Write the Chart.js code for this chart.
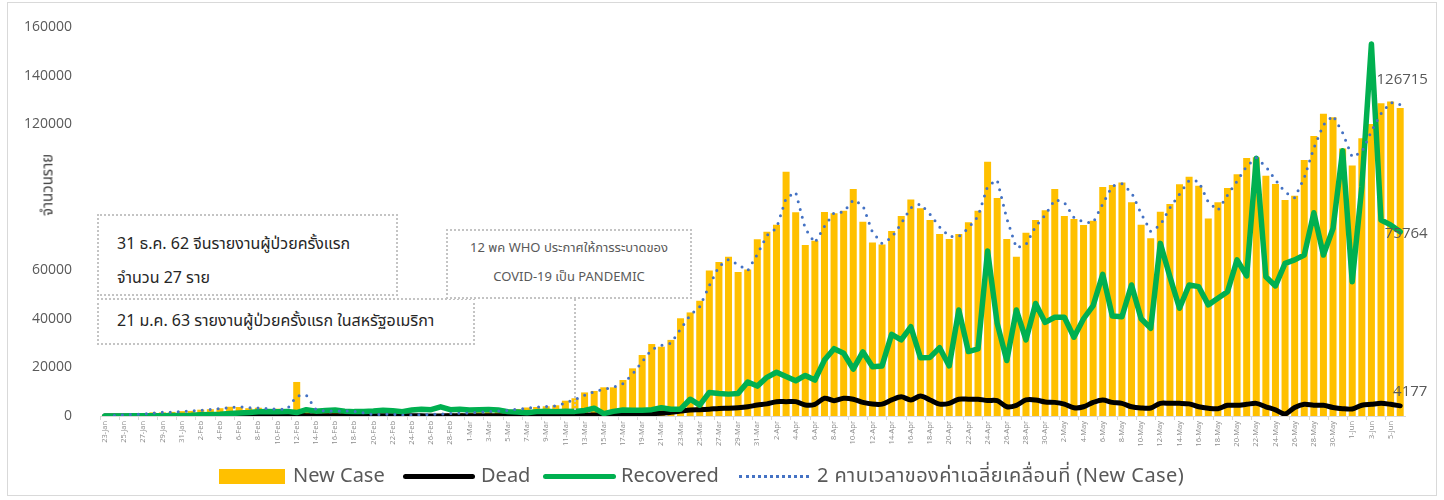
<!DOCTYPE html>
<html>
<head>
<meta charset="utf-8">
<script src="https://cdn.jsdelivr.net/npm/chart.js@4.4.1/dist/chart.umd.min.js"></script>
<style>
  html, body { margin: 0; padding: 0; background: #fff; }
  #wrap { position: relative; width: 1444px; height: 500px; overflow: hidden; background: #fff;
          font-family: "Noto Sans Thai", "Tahoma", "Open Sans", "Noto Sans", sans-serif; }
  #frame { position: absolute; left: 7px; top: 2px; width: 1430px; height: 494px; border: 1px solid #d9d9d9; box-sizing: border-box; }
  canvas { position: absolute; left: 0; top: 0; }
  .box { position: absolute; box-sizing: border-box; border: 2px dotted #c4c4c4; white-space: nowrap; }
  #ytitle { position: absolute; left: 48px; top: 185px; transform: translate(-50%, -50%) rotate(-90deg);
            font-size: 15px; color: #404040; white-space: nowrap; }
  .lg { position: absolute; top: 476px; transform: translateY(-50%); font-size: 20px; color: #595959; white-space: nowrap; }
  .sym { position: absolute; }
</style>
</head>
<body>
<div id="wrap">
  <div id="frame"></div>
  <canvas id="c" width="1444" height="500"></canvas>
  <div id="ytitle">จำนวนราย</div>

  <div class="box" style="left:97px;top:214px;width:301px;height:82px;padding:11px 0 0 18px;font-size:16px;line-height:34px;color:#262626;background:#fff;">
    31 ธ.ค. 62 จีนรายงานผู้ป่วยครั้งแรก<br>จำนวน 27 ราย
  </div>
  <div class="box" style="left:97px;top:298px;width:378px;height:47px;padding:0 0 0 18px;font-size:16px;line-height:43px;color:#262626;background:#fff;">
    21 ม.ค. 63 รายงานผู้ป่วยครั้งแรก ในสหรัฐอเมริกา
  </div>
  <div class="box" style="left:446px;top:229px;width:246px;height:70px;padding-top:3px;font-size:13px;line-height:29px;color:#595959;text-align:center;background:#fff;">
    12 พค WHO ประกาศให้การระบาดของ<br>COVID-19 เป็น PANDEMIC
  </div>
  <div style="position:absolute;left:574px;top:299px;height:111px;width:0;border-left:2px dotted #c4c4c4;"></div>

  <div class="sym" style="left:219px;top:469px;width:66px;height:15px;background:#FFC000;"></div>
  <div class="lg" style="left:293px;">New Case</div>
  <div class="sym" style="left:403px;top:474px;width:72px;height:5px;border-radius:3px;background:#000;"></div>
  <div class="lg" style="left:481px;">Dead</div>
  <div class="sym" style="left:543px;top:474px;width:73px;height:5px;border-radius:3px;background:#00B050;"></div>
  <div class="lg" style="left:621px;">Recovered</div>
  <div class="sym" style="left:739px;top:475px;width:70px;height:0;border-top:3px dotted #4472C4;"></div>
  <div class="lg" style="left:817px;letter-spacing:0.4px;">2 คาบเวลาของค่าเฉลี่ยเคลื่อนที่ (New Case)</div>
</div>
<script>
const categories = [
 '23-Jan','24-Jan','25-Jan','26-Jan','27-Jan','28-Jan','29-Jan','30-Jan','31-Jan',
 '1-Feb','2-Feb','3-Feb','4-Feb','5-Feb','6-Feb','7-Feb','8-Feb','9-Feb','10-Feb','11-Feb','12-Feb','13-Feb','14-Feb','15-Feb','16-Feb','17-Feb','18-Feb','19-Feb','20-Feb','21-Feb','22-Feb','23-Feb','24-Feb','25-Feb','26-Feb','27-Feb','28-Feb','29-Feb',
 '1-Mar','2-Mar','3-Mar','4-Mar','5-Mar','6-Mar','7-Mar','8-Mar','9-Mar','10-Mar','11-Mar','12-Mar','13-Mar','14-Mar','15-Mar','16-Mar','17-Mar','18-Mar','19-Mar','20-Mar','21-Mar','22-Mar','23-Mar','24-Mar','25-Mar','26-Mar','27-Mar','28-Mar','29-Mar','30-Mar','31-Mar',
 '1-Apr','2-Apr','3-Apr','4-Apr','5-Apr','6-Apr','7-Apr','8-Apr','9-Apr','10-Apr','11-Apr','12-Apr','13-Apr','14-Apr','15-Apr','16-Apr','17-Apr','18-Apr','19-Apr','20-Apr','21-Apr','22-Apr','23-Apr','24-Apr','25-Apr','26-Apr','27-Apr','28-Apr','29-Apr','30-Apr',
 '1-May','2-May','3-May','4-May','5-May','6-May','7-May','8-May','9-May','10-May','11-May','12-May','13-May','14-May','15-May','16-May','17-May','18-May','19-May','20-May','21-May','22-May','23-May','24-May','25-May','26-May','27-May','28-May','29-May','30-May','31-May',
 '1-Jun','2-Jun','3-Jun','4-Jun','5-Jun','6-Jun'
];

const newCase = [
 100,300,700,700,800,1500,1500,1700,2000,
 2100,2600,2800,3200,3800,3700,3200,3400,2700,3000,2500,14000,3200,2100,2000,2100,2000,1900,600,500,900,400,500,400,600,700,900,1100,1200,
 1400,1600,1900,2100,2600,2900,3500,3700,4000,4400,6300,7300,9700,10300,11800,11800,14800,19600,25100,29600,28500,31300,40200,42600,47400,59800,63300,65500,59200,60300,72700,
 75800,78700,100500,83800,70300,72100,83900,83400,84400,93400,79900,71400,70500,76100,82300,89100,85400,80600,74900,72800,74900,79700,84400,104600,89700,72800,65500,75400,80600,84600,
 93400,82300,81000,78600,80300,94200,95000,96000,87900,78700,73100,84000,87200,95300,98400,94700,81200,87900,93800,99400,106100,106400,98800,95400,88800,90600,105300,115200,124300,122900,110000,
 103000,114200,120100,128600,129400,126715
];

const dead = [
 10,10,15,15,25,25,25,38,43,
 46,45,57,64,65,73,86,89,97,108,97,254,121,143,142,105,98,136,115,118,109,97,150,71,52,29,44,60,70,
 55,90,70,80,100,100,110,100,230,210,270,330,350,440,430,600,700,800,900,1000,1100,1500,2000,2500,2600,2800,3100,3200,3400,3800,4500,
 5000,5900,5900,5900,4500,4800,7300,6300,7300,6900,5600,4900,4900,6600,7900,6600,8200,6600,4900,5200,6900,6900,6900,6400,6300,3800,4400,6600,6600,5800,
 5600,4900,3400,3800,5600,6600,5600,5200,3800,3300,3300,5200,5200,5200,5000,3800,3200,3000,4400,4400,4800,5200,3800,2500,800,3500,4800,4400,4400,3500,3000,
 2900,4400,4800,5200,4800,4177
];

const recovered = [
 30,30,50,60,100,100,150,170,250,
 300,470,630,750,1000,1200,1400,1700,1800,1700,1900,1400,2600,2000,2300,2500,2000,1800,1900,2100,2400,2200,1800,2500,2800,2600,3800,2600,2800,
 2500,2600,2700,2500,1800,1600,1300,1800,2000,1800,2000,1900,2300,3200,1000,1900,2500,2400,2400,2600,3400,2800,2800,6900,4500,9700,9300,9000,9300,14000,12300,
 15900,18000,16200,14500,16700,14800,23000,27700,25800,19300,26400,20300,20600,33600,31300,36700,24000,24100,28100,20600,43600,26500,27600,67900,38100,22800,43600,31300,46300,38500,
 40600,40600,32400,40000,45400,58300,41100,40800,53900,40000,36100,71000,57300,44300,53900,53200,45700,48400,51100,64200,57600,106000,57300,53500,62800,64200,66200,83600,66200,77200,109100,
 55200,94300,153000,80600,78600,75764
];

const movingAvg2 = [
 null,200,500,700,750,1150,1500,1600,1850,
 2050,2350,2700,3000,3500,3750,3450,3300,3050,2850,2750,8250,8600,2650,2050,2050,2050,1950,1250,550,700,650,450,450,500,650,800,1000,1150,
 1300,1500,1750,2000,2350,2750,3200,3600,3850,4200,5350,6800,8500,10000,11050,11800,13300,17200,22350,27350,29050,29900,35750,41400,45000,53600,61550,64400,62350,59750,66500,
 74250,77250,89600,92150,77050,71200,78000,83650,83900,88900,86650,75650,70950,73300,79200,85700,87250,83000,77750,73850,73850,77300,82050,94500,97150,81250,69150,70450,78000,82600,
 89000,87850,81650,79800,79450,87250,94600,95500,91950,83300,75900,78550,85600,91250,96850,96550,87950,84550,90850,96600,102750,106250,102600,97100,92100,89700,97950,110250,119750,123600,116450,
 106500,108600,117150,124350,129000,128057
];

const yTicksShown = [0, 20000, 40000, 60000, 120000, 140000, 160000];

const endLabels = {
  id: 'endLabels',
  afterDatasetsDraw(chart) {
    const ctx = chart.ctx;
    ctx.save();
    ctx.font = '15px "Open Sans", sans-serif';
    ctx.fillStyle = '#595959';
    ctx.textAlign = 'center';
    ctx.textBaseline = 'middle';
    const put = (di, arr, dx, dy) => {
      const pts = chart.getDatasetMeta(di).data;
      const p = pts[pts.length - 1];
      if (p) ctx.fillText(String(arr[arr.length - 1]), p.x + dx, p.y + dy);
    };
    put(0, newCase, 2, -28);
    put(1, dead, 10, -14);
    put(2, recovered, 6, 2);
    ctx.restore();
  }
};

new Chart(document.getElementById('c'), {
  data: {
    labels: categories,
    datasets: [
      { type: 'bar', label: 'New Case', data: newCase, backgroundColor: '#FFC000', borderWidth: 0,
        categoryPercentage: 1.0, barPercentage: 0.73, order: 3 },
      { type: 'line', label: 'Dead', data: dead, borderColor: '#000000', backgroundColor: '#000000',
        borderWidth: 5, pointRadius: 0, tension: 0.3, borderJoinStyle: 'round', borderCapStyle: 'round', order: 2 },
      { type: 'line', label: 'Recovered', data: recovered, borderColor: '#00B050', backgroundColor: '#00B050',
        borderWidth: 5.5, pointRadius: 0, tension: 0, borderJoinStyle: 'round', borderCapStyle: 'round', order: 1 },
      { type: 'line', label: '2 คาบเวลาของค่าเฉลี่ยเคลื่อนที่ (New Case)', data: movingAvg2, borderColor: '#4472C4',
        backgroundColor: '#4472C4', borderWidth: 3, borderDash: [0, 8], borderCapStyle: 'round', pointRadius: 0,
        tension: 0, spanGaps: true, order: 0 }
    ]
  },
  options: {
    responsive: false,
    animation: false,
    events: [],
    layout: { padding: { left: 0, top: 27, right: 39, bottom: 0 } },
    plugins: { legend: { display: false }, tooltip: { enabled: false } },
    scales: {
      x: {
        type: 'category',
        offset: true,
        grid: { display: true, drawOnChartArea: false, drawTicks: true, tickLength: 4,
                tickColor: (ctx) => (ctx.index % 2 === 0 ? '#d9d9d9' : 'rgba(0,0,0,0)'), offset: true },
        border: { display: true, color: '#d9d9d9', width: 1 },
        ticks: {
          autoSkip: false, maxRotation: 90, minRotation: 90, padding: 1,
          color: '#8c8c8c', font: { family: '"Open Sans", sans-serif', size: 7.5 },
          callback: (v, i) => (i % 2 === 0 ? categories[i] : '')
        },
        afterFit: (s) => { s.height = 84; s.paddingLeft = 0; s.paddingRight = 0; }
      },
      y: {
        min: 0, max: 160000,
        grid: { display: false },
        border: { display: false },
        ticks: {
          stepSize: 20000, padding: 20, color: '#595959',
          font: { family: '"Open Sans", sans-serif', size: 14 },
          callback: (v) => (yTicksShown.includes(v) ? String(v) : '')
        },
        afterFit: (s) => { s.width = 100; s.paddingTop = 0; s.paddingBottom = 0; }
      }
    }
  },
  plugins: [endLabels]
});
</script>
</body>
</html>
